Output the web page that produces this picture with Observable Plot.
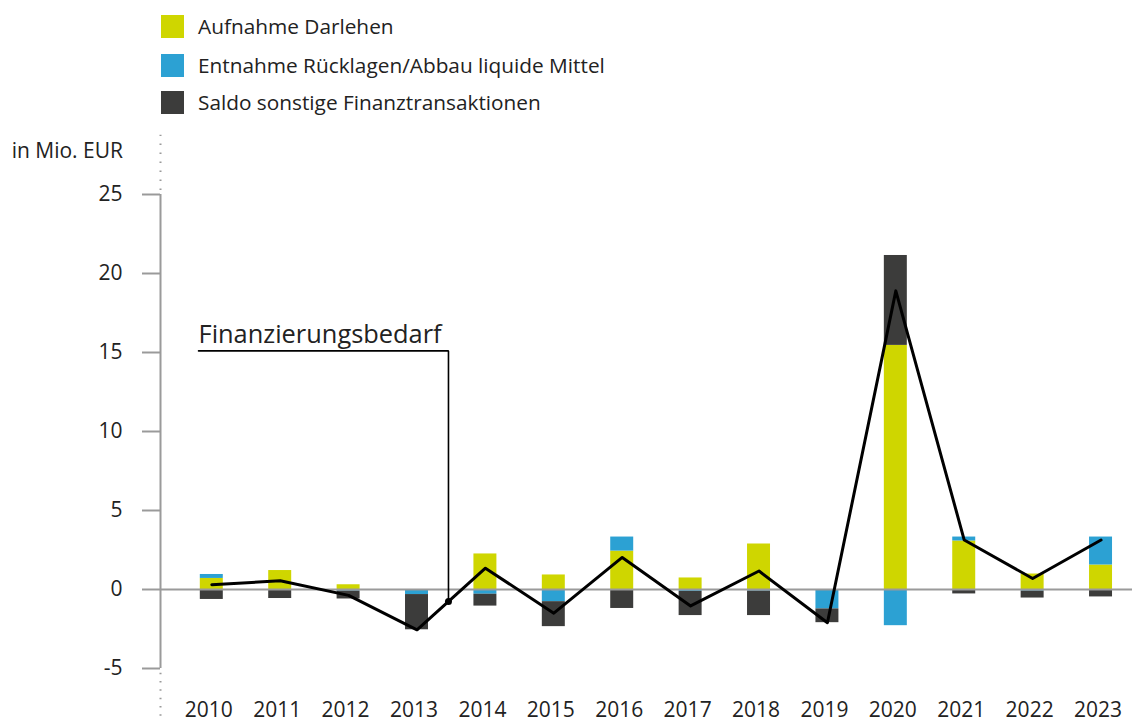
<!DOCTYPE html>
<html>
<head>
<meta charset="utf-8">
<script src="https://cdn.jsdelivr.net/npm/d3@7"></script>
<script src="https://cdn.jsdelivr.net/npm/@observablehq/plot@0.6"></script>
<style>
  html, body { margin: 0; padding: 0; background: #fff; }
  body { font-family: "Open Sans", sans-serif; color: #222; }
  #wrap { position: relative; width: 1132px; height: 724px; overflow: hidden; }
  #legend { position: relative; height: 120px; }
  .item { position: absolute; left: 161px; height: 24px; display: flex; align-items: center; font-size: 20.8px; white-space: nowrap; }
  .sw { width: 23px; height: 23px; margin-right: 14px; flex: none; }
  #unit { position: absolute; left: 0; width: 123px; text-align: right; top: 136px; font-size: 21px; line-height: 28px; z-index: 2; white-space: nowrap; }
</style>
</head>
<body>
<div id="wrap">
  <div id="legend"></div>
  <div id="unit">in Mio. EUR</div>
  <div id="chart"></div>
</div>
<script>
// ---- data (Mio. EUR) ----
const years = [2010, 2011, 2012, 2013, 2014, 2015, 2016, 2017, 2018, 2019, 2020, 2021, 2022, 2023];
const seriesNames = ["Aufnahme Darlehen", "Entnahme Rücklagen/Abbau liquide Mittel", "Saldo sonstige Finanztransaktionen"];
const seriesColors = ["#cfd600", "#2ca1d3", "#3c3c3b"];
const aufnahme = [0.7, 1.2, 0.3, 0, 2.25, 0.92, 2.43, 0.73, 2.88, 0, 15.45, 3.07, 0.98, 1.55];
const entnahme = [0.25, -0.05, -0.1, -0.32, -0.3, -0.77, 0.89, -0.12, -0.1, -1.23, -2.29, 0.25, -0.1, 1.77];
const saldo = [-0.63, -0.52, -0.5, -2.23, -0.75, -1.58, -1.2, -1.53, -1.55, -0.87, 5.69, -0.28, -0.44, -0.47];
const bedarf = [0.3, 0.55, -0.37, -2.55, 1.35, -1.5, 2.03, -1.04, 1.17, -2.1, 18.9, 3.13, 0.7, 3.13];
const yTicks = [-5, 0, 5, 10, 15, 20, 25];
const annotationLabel = "Finanzierungsbedarf";
const annotationAt = 2013.46;      // point on the line the callout points to
const annotationLevel = 15.1;      // height of the callout's horizontal leg
const annotationStart = 2009.806;  // left end of the callout

// ---- legend ----
const legend = document.getElementById("legend");
const legendTops = [14, 53, 90];
seriesNames.forEach((name, i) => {
  const it = document.createElement("div");
  it.className = "item";
  it.style.top = legendTops[i] + "px";
  it.innerHTML = `<span class="sw" style="background:${seriesColors[i]}"></span><span>${name}</span>`;
  legend.appendChild(it);
});

// ---- table ----
const rows = [];
years.forEach((yr, i) => {
  [aufnahme[i], entnahme[i], saldo[i]].forEach((v, s) => rows.push({year: yr, series: seriesNames[s], value: v}));
});
const lineData = years.map((yr, i) => ({year: yr, value: bedarf[i]}));

// interpolate line at annotation point
const k = years.findIndex(y => y > annotationAt);
const t = (annotationAt - years[k - 1]) / (years[k] - years[k - 1]);
const annotY = bedarf[k - 1] + t * (bedarf[k] - bedarf[k - 1]);
const callout = [
  {x: annotationStart, y: annotationLevel},
  {x: annotationAt, y: annotationLevel},
  {x: annotationAt, y: annotY}
];

const xDomain = [2009.25, 2023.46];
const yDomain = [-5, 25];
const halfBar = 0.168;
const grey = "#9a9a9a";

const chart = Plot.plot({
  width: 1132,
  height: 604,
  marginLeft: 160,
  marginRight: 0,
  marginTop: 74,
  marginBottom: 56,
  style: {fontFamily: "'Open Sans', sans-serif", fontSize: "21px", color: "#222", background: "#fff"},
  x: {domain: xDomain, axis: null},
  y: {domain: yDomain, axis: null},
  color: {domain: seriesNames, range: seriesColors},
  marks: [
    Plot.rectY(rows, Plot.stackY({
      x1: d => d.year - halfBar,
      x2: d => d.year + halfBar,
      y: "value",
      fill: "series"
    })),
    Plot.ruleY([0], {stroke: grey, strokeWidth: 2}),
    Plot.ruleX([xDomain[0]], {y1: yDomain[0], y2: yDomain[1], stroke: grey, strokeWidth: 2}),
    Plot.ruleX([xDomain[0]], {y1: yDomain[1] + 0.25, y2: yDomain[1] + 3.75, stroke: grey, strokeWidth: 2, strokeDasharray: "1.5,7.5"}),
    Plot.ruleX([xDomain[0]], {y1: yDomain[0] - 0.3, y2: yDomain[0] - 3.2, stroke: grey, strokeWidth: 2, strokeDasharray: "1.5,6.8"}),
    Plot.axisY({ticks: yTicks, tickSize: 18, tickPadding: 20, tickFormat: d => String(d), stroke: grey, strokeWidth: 2, fill: "#222", fontSize: 21, label: null}),
    Plot.axisX({ticks: years, tickSize: 0, tickPadding: 34, tickFormat: d => String(d), fill: "#222", fontSize: 21, dx: -3, label: null}),
    Plot.line(lineData, {x: "year", y: "value", stroke: "#000", strokeWidth: 3}),
    Plot.line(callout, {x: "x", y: "y", stroke: "#000", strokeWidth: 1.6, strokeLinejoin: "miter"}),
    Plot.dot([callout[2]], {x: "x", y: "y", r: 3.5, fill: "#000"}),
    Plot.text([callout[0]], {x: "x", y: "y", text: () => annotationLabel, textAnchor: "start", lineAnchor: "bottom", dy: -8, fontSize: 25.4, fill: "#222"})
  ]
});
document.getElementById("chart").appendChild(chart);
</script>
</body>
</html>
